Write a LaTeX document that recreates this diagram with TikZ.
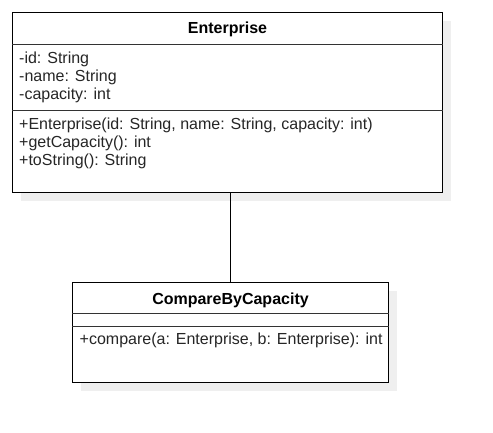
\documentclass[tikz,border=0pt]{standalone}
\usepackage{fontspec}
\setmainfont{Liberation Sans}
\definecolor{shadowgray}{HTML}{EFEFEF}
\definecolor{linegray}{HTML}{333333}
\begin{document}
\begin{tikzpicture}[x=1pt,y=-1pt,
  classbox/.style={draw=black, line width=1pt, fill=white, inner sep=0pt},
  sep/.style={draw=linegray, line width=1pt},
  txt/.style={inner sep=0pt, font=\fontsize{16}{18}\selectfont, text=black!85},
  title/.style={inner sep=0pt, font=\fontsize{16}{18}\selectfont\bfseries, text=black},
  conn/.style={draw=black, line width=1pt}]
\useasboundingbox (0,0) rectangle (493,432);
% shadows
\fill[shadowgray] (20.5,20.5) rectangle (450.5,200.5);
\fill[shadowgray] (80.5,290.5) rectangle (396.5,390.5);
% Enterprise class
\node[classbox, minimum width=430pt, minimum height=180pt] (enterprise) at (227.5,102.5) {};
\draw[sep] (enterprise.west |- 0,44) -- (enterprise.east |- 0,44);
\draw[sep] (enterprise.west |- 0,110) -- (enterprise.east |- 0,110);
\node[title, anchor=base] (etitle) at (227.5,33) {Enterprise};
\node[txt, anchor=base west] (a1) at (19,63.5) {-id: String};
\node[txt, anchor=base west] (a2) at (19,81.5) {-name: String};
\node[txt, anchor=base west] (a3) at (19,99.5) {-capacity: int};
\node[txt, anchor=base west] (m1) at (19,129.5) {+Enterprise(id: String, name: String, capacity: int)};
\node[txt, anchor=base west] (m2) at (19,147.5) {+getCapacity(): int};
\node[txt, anchor=base west] (m3) at (19,165.5) {+toString(): String};
% CompareByCapacity class
\node[classbox, minimum width=316pt, minimum height=100pt] (compare) at (230.5,332.5) {};
\draw[sep] (compare.west |- 0,313.5) -- (compare.east |- 0,313.5);
\draw[sep] (compare.west |- 0,326) -- (compare.east |- 0,326);
\node[title, anchor=base] (ctitle) at (230.5,304) {CompareByCapacity};
\node[txt, anchor=base west] (c1) at (79.5,344) {+compare(a: Enterprise, b: Enterprise): int};
% connector
\draw[conn] (compare.north |- enterprise.south) -- (compare.north);
\end{tikzpicture}
\end{document}
